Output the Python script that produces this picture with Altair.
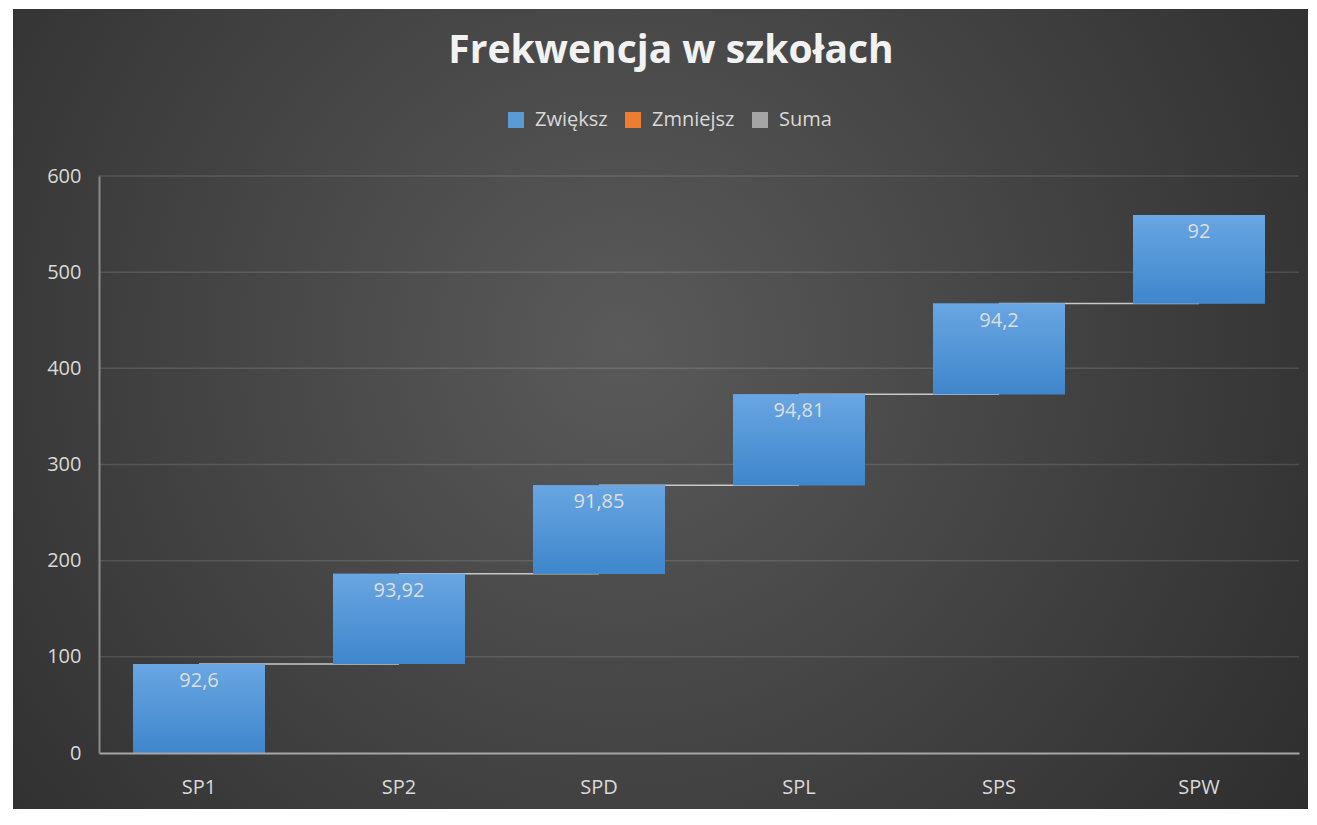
import altair as alt
import pandas as pd

categories = ["SP1", "SP2", "SPD", "SPL", "SPS", "SPW"]
values = [92.6, 93.92, 91.85, 94.81, 94.2, 92]
y_ticks = [0, 100, 200, 300, 400, 500, 600]
legend_names = ["Zwiększ", "Zmniejsz", "Suma"]
legend_colors = ["#5b9bd5", "#ed7d31", "#a5a5a5"]

ends = []
acc = 0.0
for v in values:
    acc += v
    ends.append(round(acc, 2))
starts = [e - v for e, v in zip(ends, values)]
nexts = categories[1:] + [None]

df = pd.DataFrame({
    "cat": categories,
    "value": values,
    "start": starts,
    "end": ends,
    "next": nexts,
    "type": ["Zwiększ"] * len(categories),
    "label": [f"{v:g}".replace(".", ",") for v in values],
})
grid_df = pd.DataFrame({"t": y_ticks[1:]})

FONT = "Open Sans"
W, H = 1200, 577

x_enc = alt.X(
    "cat:N",
    sort=categories,
    title=None,
    scale=alt.Scale(paddingInner=0.34, paddingOuter=0.17),
    axis=alt.Axis(
        labelAngle=0, labelFontSize=20, labelColor="#d9d9d9", labelFont=FONT,
        labelPadding=24, ticks=False, tickSize=0, grid=False,
        domainColor="#a6a6a6", domainWidth=2, zindex=1,
    ),
)
y_scale = alt.Scale(domain=[0, 600], nice=False)
y_axis = alt.Axis(
    values=y_ticks, labelFontSize=20,
    labelColor="#d9d9d9", labelFont=FONT, labelPadding=18, ticks=False,
    tickSize=0, grid=False, domainColor="#8a8a8a", domainWidth=2, zindex=1,
)

bg = alt.Chart(pd.DataFrame({"a": [0]})).mark_rect(
    fill={
        "gradient": "radial",
        "x1": 0.47, "y1": 0.45, "r1": 0,
        "x2": 0.47, "y2": 0.45, "r2": 0.75,
        "stops": [
            {"offset": 0, "color": "#5a5a5a"},
            {"offset": 1, "color": "#262626"},
        ],
    },
    clip=False,
).encode(
    x=alt.value(-86), x2=alt.value(1209), y=alt.value(-167), y2=alt.value(633)
)

gridlines = alt.Chart(grid_df).mark_rule(
    color="#ffffff", opacity=0.12, strokeWidth=1.5
).encode(
    y=alt.Y("t:Q", scale=y_scale, axis=y_axis, title=None),
    x=alt.value(0),
    x2=alt.value(W),
)

base = alt.Chart(df)

connectors = base.transform_filter("datum.next != null").mark_rule(
    color="#c8c8c8", strokeWidth=1.5
).encode(
    x=x_enc,
    x2="next:N",
    y=alt.Y("end:Q", scale=y_scale, axis=y_axis, title=None),
)

bars = base.mark_bar().encode(
    x=x_enc,
    y=alt.Y("start:Q", scale=y_scale, axis=y_axis, title=None),
    y2="end:Q",
    color=alt.Color(
        "type:N",
        scale=alt.Scale(domain=legend_names, range=legend_colors),
        legend=alt.Legend(
            title=None, orient="none", direction="horizontal",
            legendX=407, legendY=-66, symbolType="square", symbolSize=256,
            symbolStrokeWidth=0, labelFontSize=20, labelColor="#d9d9d9",
            labelFont=FONT, columnPadding=15, labelOffset=9, padding=0,
        ),
    ),
)

bars_grad = base.mark_bar(
    fill={
        "gradient": "linear",
        "x1": 0, "y1": 0, "x2": 0, "y2": 1,
        "stops": [
            {"offset": 0, "color": "#69a6e2"},
            {"offset": 1, "color": "#3f86cc"},
        ],
    }
).encode(
    x=x_enc,
    y=alt.Y("start:Q", scale=y_scale, axis=y_axis, title=None),
    y2="end:Q",
)

labels = base.mark_text(
    baseline="middle", align="center", dy=17, fontSize=20, font=FONT,
    color="#dedede",
).encode(
    x=x_enc,
    y=alt.Y("end:Q", scale=y_scale, axis=y_axis, title=None),
    text="label:N",
)

chart = alt.layer(bg, gridlines, connectors, bars, bars_grad, labels).properties(
    width=W,
    height=H,
    title=alt.Title(
        "Frekwencja w szkołach", fontSize=39, font=FONT, fontWeight="bold",
        color="#f2f2f2", anchor="middle", offset=0, baseline="alphabetic",
        dy=93, dx=-28,
    ),
    autosize=alt.AutoSizeParams(type="none"),
    padding={"left": 91, "top": 168, "right": 9, "bottom": 56},
).configure(background="#ffffff").configure_view(stroke=None)

chart.save("out.html", embed_options={"renderer": "svg", "actions": False})
